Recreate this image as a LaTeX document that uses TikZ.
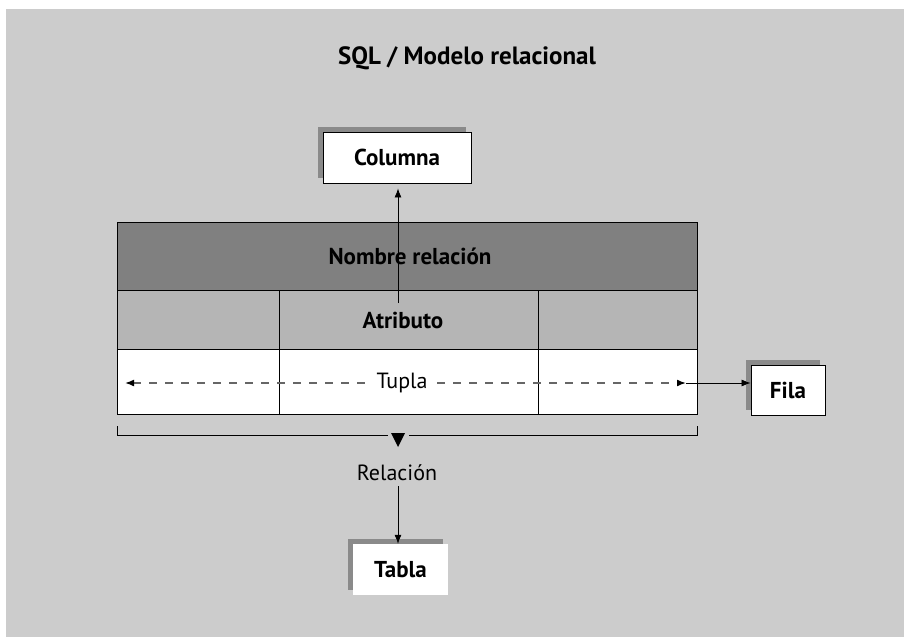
\documentclass[tikz,border=0pt]{standalone}
\usepackage{fontspec}
\setmainfont{PT Sans}
\usetikzlibrary{arrows.meta,shadows}
\definecolor{bg}{HTML}{CCCCCC}
\definecolor{darkcell}{HTML}{808080}
\definecolor{midcell}{HTML}{B5B5B5}
\definecolor{shadowc}{HTML}{8A8A8A}
\definecolor{dashc}{HTML}{666666}
\tikzset{
  lbl/.style={font=\bfseries\fontsize{23}{26}\selectfont, inner sep=0pt},
  plain/.style={font=\fontsize{22}{25}\selectfont, inner sep=0pt},
  shbox/.style={fill=white, inner sep=0pt, font=\bfseries\fontsize{23}{26}\selectfont,
    drop shadow={shadow xshift=-5pt, shadow yshift=5pt, opacity=1, fill=shadowc}},
  cell/.style={draw=black, line width=0.9pt, inner sep=0pt},
  arr/.style={-{Latex[length=9pt,width=7pt]}, line width=0.8pt},
  darr/.style={{Latex[length=9pt,width=7pt,color=black]}-{Latex[length=9pt,width=7pt,color=black]}, dashc, dash pattern=on 8pt off 8pt, line width=1.6pt}
}
\begin{document}
\begin{tikzpicture}[x=1pt,y=-1pt]
\useasboundingbox (0,0) rectangle (904,637);
\fill[white] (0,0) rectangle (904,637);
\fill[bg] (6,9) rectangle (904,637);

\node[lbl, font=\bfseries\fontsize{25}{28}\selectfont] (title) at (467,58) {SQL / Modelo relacional};

% table
\node[cell, fill=darkcell, minimum width=580pt, minimum height=68pt] (hdr) at (407,256) {};
\node[cell, fill=midcell, minimum width=162pt, minimum height=59pt] (a1) at (198,319.5) {};
\node[cell, fill=midcell, minimum width=259pt, minimum height=59pt] (a2) at (408.5,319.5) {};
\node[cell, fill=midcell, minimum width=159pt, minimum height=59pt] (a3) at (617.5,319.5) {};
\node[cell, fill=white, minimum width=162pt, minimum height=65pt] (t1) at (198,381.5) {};
\node[cell, fill=white, minimum width=259pt, minimum height=65pt] (t2) at (408.5,381.5) {};
\node[cell, fill=white, minimum width=159pt, minimum height=65pt] (t3) at (617.5,381.5) {};

\node[lbl] (nombre) at (410,256) {Nombre relación};
\node[lbl] (atributo) at (403,320) {Atributo};

% Columna
\node[shbox, draw=black, line width=0.9pt, minimum width=148pt, minimum height=51pt] (col) at (397,157.5) {Columna};
\coordinate (cs) at (398,303);
\draw[arr, shorten >=5pt] (cs) -- (cs |- col.south);

% Tupla
\coordinate (tl) at (125,383);
\coordinate (tr) at (686,383);
\draw[darr] (tl) -- (tr);
\node[plain, fill=white, inner xsep=4pt, inner ysep=2pt] (tupla) at (402,383) {Tupla};

% Fila
\node[shbox, draw=black, line width=0.9pt, minimum width=74pt, minimum height=50pt] (fila) at (788,390) {Fila};
\coordinate (fs) at (686,383);
\draw[arr] (fs) -- (fs -| fila.west);

% bracket
\coordinate (bl) at (117,426);
\coordinate (br) at (697,426);
\draw[line width=0.9pt] (bl) -- (117,435) -- (388,435);
\draw[line width=0.9pt] (409,435) -- (697,435) -- (br);
\fill (391,433) -- (405,433) -- (398,447) -- cycle;

\node[plain] (rel) at (397,473) {Relación};

% Tabla
\node[shbox, minimum width=95pt, minimum height=51pt] (tabla) at (400.5,569.5) {Tabla};
\coordinate (ts) at (398,486);
\draw[arr] (ts) -- (ts |- tabla.north);
\end{tikzpicture}
\end{document}
